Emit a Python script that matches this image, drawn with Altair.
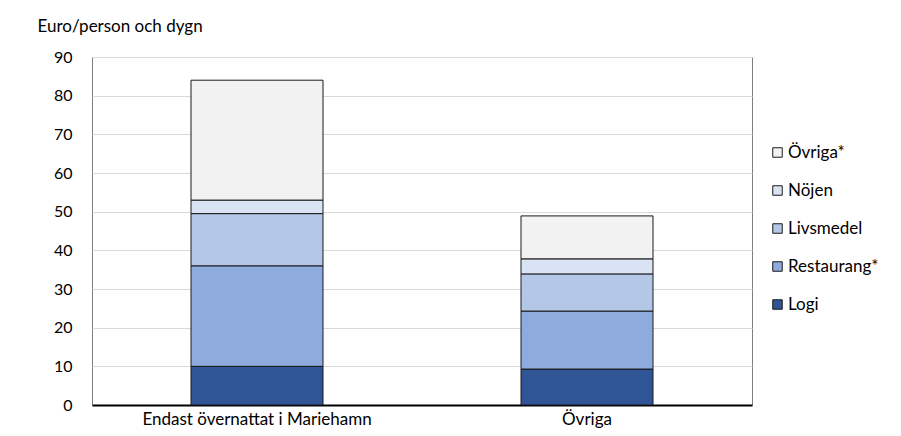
import altair as alt
import pandas as pd

groups = ["Endast övernattat i Mariehamn", "Övriga"]
categories = ["Logi", "Restaurang*", "Livsmedel", "Nöjen", "Övriga*"]
values_g1 = [10.0, 26.0, 13.5, 3.5, 31.0]
values_g2 = [9.3, 15.0, 9.6, 3.9, 11.1]
colors = ["#2F5597", "#8FAADC", "#B4C7E7", "#DAE3F3", "#F2F2F2"]

rows = []
for g, vals in zip(groups, [values_g1, values_g2]):
    for i, (c, v) in enumerate(zip(categories, vals)):
        rows.append({"group": g, "cat": c, "value": v, "ord": i})
df = pd.DataFrame(rows)

legend_order = categories[::-1]
legend_colors = colors[::-1]

font = "Lato"

chart = alt.Chart(df).mark_bar(stroke="#1a1a1a", strokeWidth=1).encode(
    x=alt.X("group:N", sort=groups,
            scale=alt.Scale(paddingInner=0.6, paddingOuter=0.3),
            axis=alt.Axis(title=None, labelAngle=0, labelFontSize=17, labelFont=font,
                          labelColor="#000", ticks=False, domainColor="#000",
                          domainWidth=2, labelPadding=6, labelLimit=0)),
    y=alt.Y("value:Q", stack="zero",
            scale=alt.Scale(domain=[0, 90]),
            axis=alt.Axis(values=list(range(0, 91, 10)), title="Euro/person och dygn",
                          titleAngle=0, titleAlign="left", titleBaseline="alphabetic",
                          titleX=-55, titleY=-26, titleFont=font, titleFontSize=17,
                          titleFontWeight="normal", titleColor="#000",
                          labelFont=font, labelFontSize=16, labelColor="#000",
                          labelPadding=20, ticks=False, domain=False,
                          gridColor="#D9D9D9", gridWidth=1)),
    color=alt.Color("cat:N",
                    scale=alt.Scale(domain=legend_order, range=legend_colors),
                    legend=alt.Legend(title=None, orient="none", legendX=677, legendY=87,
                                      symbolType="square", symbolSize=90,
                                      symbolStrokeColor="#1a1a1a", symbolStrokeWidth=1,
                                      labelFont=font, labelFontSize=17, labelColor="#000",
                                      rowPadding=20, labelOffset=2, labelLimit=0)),
    order=alt.Order("ord:Q", sort="ascending"),
).properties(
    width=660, height=348,
    autosize=alt.AutoSizeParams(type="none"),
    padding={"left": 84, "top": 49, "right": 141, "bottom": 31},
).configure_view(stroke="#7f7f7f", strokeWidth=1)

chart.save("out.html", embed_options={"renderer": "svg", "actions": False})
